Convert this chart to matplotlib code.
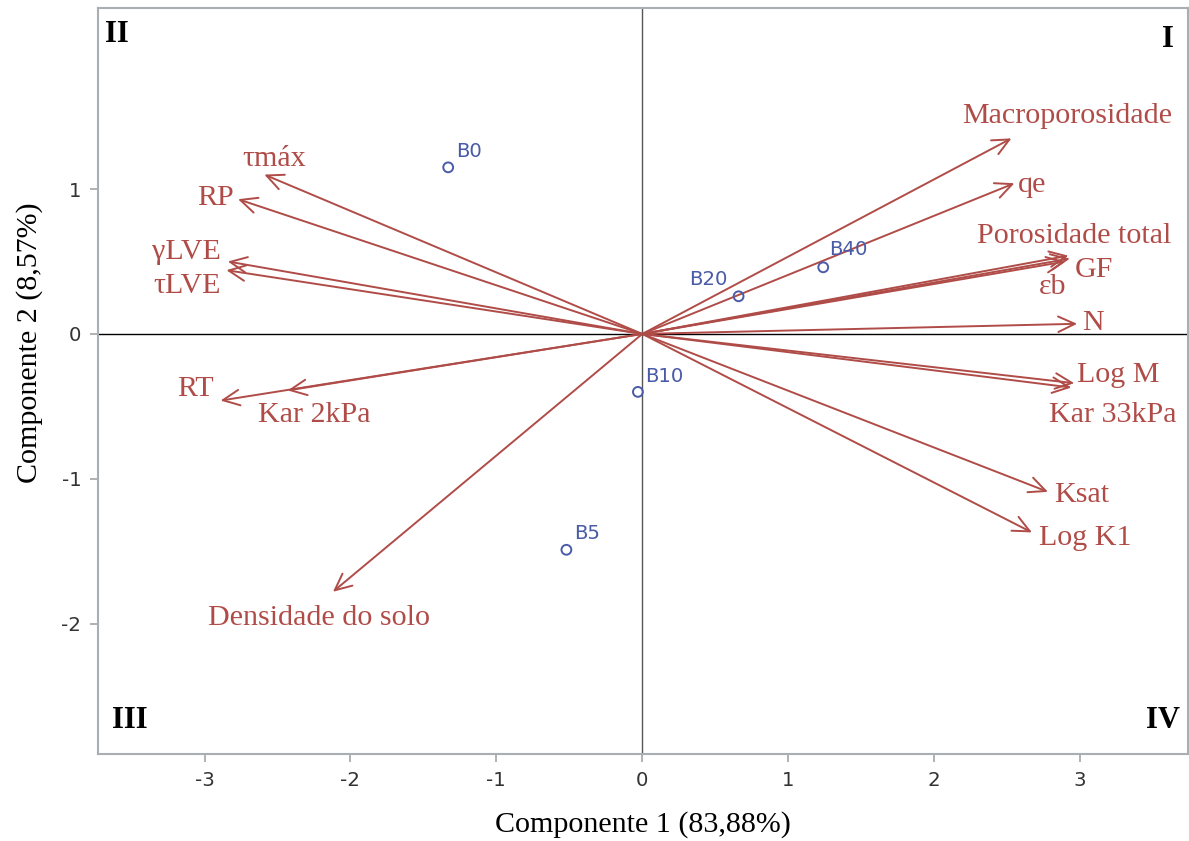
import matplotlib
matplotlib.use("Agg")
import matplotlib.pyplot as plt

# ---- data ----
variables = ["Macroporosidade", "qe", "Porosidade total", "GF", "εb", "N",
             "Log M", "Kar 33kPa", "Ksat", "Log K1", "Densidade do solo",
             "RT", "Kar 2kPa", "τmáx", "RP", "γLVE", "τLVE"]
var_pc1 = [2.53, 2.55, 2.92, 2.93, 2.90, 2.98, 2.96, 2.94, 2.78, 2.67, -2.12,
           -2.89, -2.43, -2.59, -2.77, -2.84, -2.85]
var_pc2 = [1.35, 1.04, 0.54, 0.52, 0.50, 0.07, -0.34, -0.37, -1.09, -1.37, -1.78,
           -0.46, -0.39, 1.10, 0.93, 0.50, 0.44]

samples = ["B0", "B20", "B40", "B10", "B5"]
samp_pc1 = [-1.33, 0.66, 1.24, -0.03, -0.52]
samp_pc2 = [1.15, 0.26, 0.46, -0.40, -1.49]

xlabel = "Componente 1 (83,88%)"
ylabel = "Componente 2 (8,57%)"
quadrants = ["I", "II", "III", "IV"]

# ---- layout (label positions: left x, baseline y in data units) ----
var_label_pos = {
    "Macroporosidade": (2.195, 1.455), "qe": (2.572, 0.98),
    "Porosidade total": (2.291, 0.63), "GF": (2.962, 0.39),
    "εb": (2.72, 0.275), "N": (3.017, 0.03), "Log M": (2.976, -0.33),
    "Kar 33kPa": (2.79, -0.61), "Ksat": (2.825, -1.16), "Log K1": (2.72, -1.46),
    "Densidade do solo": (-2.975, -2.01), "RT": (-3.19, -0.43),
    "Kar 2kPa": (-2.63, -0.61), "τmáx": (-2.74, 1.16), "RP": (-3.05, 0.89),
    "γLVE": (-3.36, 0.52), "τLVE": (-3.35, 0.28),
}
samp_label_off = {"B0": (8, 10, "left"), "B20": (-11, 11, "right"),
                  "B40": (6, 12, "left"), "B10": (7, 10, "left"),
                  "B5": (8, 11, "left")}

RED = "#B04C48"
BLUE = "#4A5CA8"
SERIF = ["Liberation Serif", "DejaVu Serif"]
SANS = ["DejaVu Sans"]
FS = 21.6

fig = plt.figure(figsize=(11.89, 8.41), dpi=100)
ax = fig.add_axes([0.0824, 0.1034, 0.9168, 0.8871])
ax.set_xlim(-3.73, 3.74)
ax.set_ylim(-2.90, 2.25)

ax.axhline(0, color="black", lw=1.0, zorder=1)
ax.axvline(0, color="#555555", lw=1.0, zorder=1)

for name, x, y in zip(variables, var_pc1, var_pc2):
    ax.annotate("", xy=(x, y), xytext=(0, 0),
                arrowprops=dict(arrowstyle="->,head_length=0.6,head_width=0.28",
                                color=RED, lw=1.4, mutation_scale=20,
                                shrinkA=0, shrinkB=0), zorder=2)
    lx, ly = var_label_pos[name]
    ax.text(lx, ly, name, color=RED, fontsize=FS, family=SERIF,
            ha="left", va="baseline", zorder=3)

ax.scatter(samp_pc1, samp_pc2, s=50, facecolors="none", edgecolors=BLUE,
           linewidths=1.4, zorder=4)
for name, x, y in zip(samples, samp_pc1, samp_pc2):
    dx, dy, ha = samp_label_off[name]
    ax.annotate(name, xy=(x, y), xytext=(dx, dy), textcoords="offset pixels",
                color=BLUE, fontsize=14.2, family=SANS, ha=ha, va="baseline",
                zorder=4)

# quadrant labels
qkw = dict(fontsize=22, family=SERIF, fontweight="bold", color="black",
           transform=ax.transAxes)
ax.text(0.987, 0.958, quadrants[0], ha="right", va="center", **qkw)
ax.text(0.006, 0.965, quadrants[1], ha="left", va="center", **qkw)
ax.text(0.013, 0.045, quadrants[2], ha="left", va="center", **qkw)
ax.text(0.9925, 0.045, quadrants[3], ha="right", va="center", **qkw)

ax.set_xticks([-3, -2, -1, 0, 1, 2, 3])
ax.set_yticks([-2, -1, 0, 1])
ax.set_xticklabels(["-3", "-2", "-1", "0", "1", "2", "3"])
ax.set_yticklabels(["-2", "-1", "0", "1"])
for lab in ax.get_xticklabels() + ax.get_yticklabels():
    lab.set_family(SANS)
    lab.set_fontsize(14.2)
    lab.set_color("#333333")
ax.tick_params(direction="out", length=6, width=1.2, color="#A0A6AC", pad=6)
for sp in ax.spines.values():
    sp.set_color("#A9AEB3")
    sp.set_linewidth(1.5)

ax.set_xlabel(xlabel, fontsize=FS, family=SERIF)
ax.set_ylabel(ylabel, fontsize=FS, family=SERIF)
ax.xaxis.set_label_coords(0.50, -0.076)
ax.yaxis.set_label_coords(-0.050, 0.552)

fig.savefig("out.png", dpi=100)
